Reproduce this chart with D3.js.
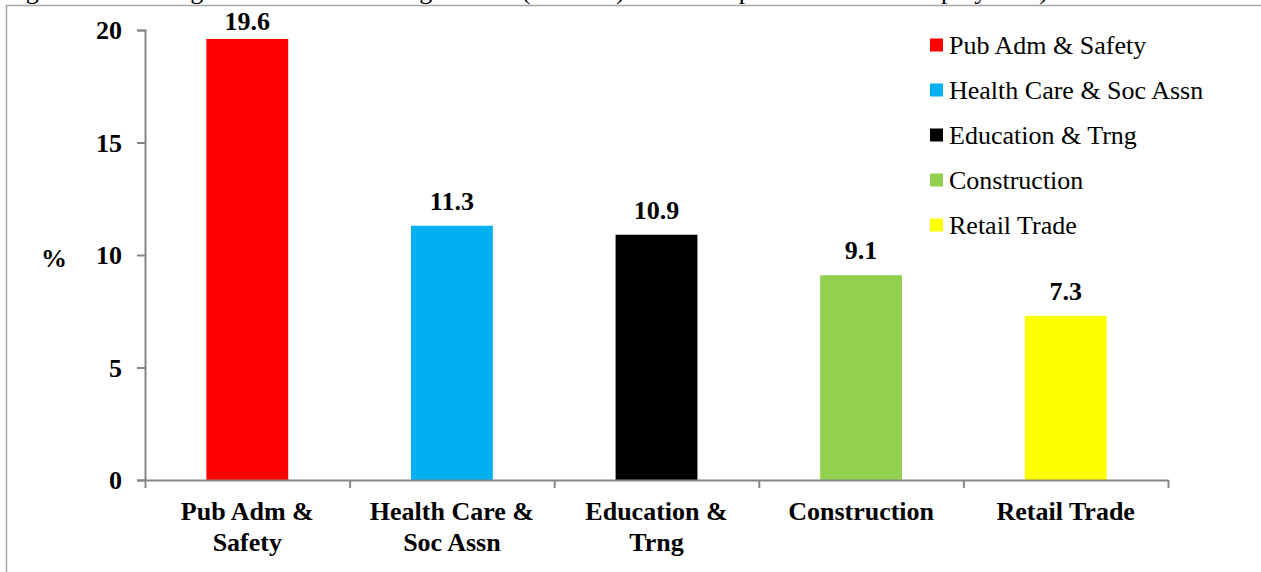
<!DOCTYPE html>
<html>
<head>
<meta charset="utf-8">
<script src="https://cdn.jsdelivr.net/npm/d3@7"></script>
<style>
  html, body { margin: 0; padding: 0; background: #fff; }
  svg { display: block; }
  text { font-family: "Liberation Serif", "Tinos", "Times New Roman", "DejaVu Serif", serif; fill: #000; }
</style>
</head>
<body>
<svg id="chart" width="1261" height="572"></svg>
<script>
// Leading industries of employment for women, share of employed (%)
const categories = ["Pub Adm & Safety", "Health Care & Soc Assn", "Education & Trng", "Construction", "Retail Trade"];
const values = [19.6, 11.3, 10.9, 9.1, 7.3];
const colors = ["#ff0000", "#00b0f0", "#000000", "#92d050", "#ffff00"];
const yTicks = [0, 5, 10, 15, 20];
const captionText = "Figure 14: Leading industries of working women (2011-12) as a share per cent of total employment)";

const FONT = "'Liberation Serif', 'Tinos', 'Times New Roman', 'DejaVu Serif', serif";
const svg = d3.select("#chart");
const W = 1261, H = 572;
const plot = { left: 145, right: 1168, top: 30, bottom: 480 };
const axisColor = "#868686";

// Caption line above the frame (runs off the top edge)
svg.append("text")
  .attr("x", 4)
  .attr("y", -1)
  .attr("font-family", FONT)
  .attr("font-size", 26)
  .text(captionText);

// Outer chart frame
svg.append("rect")
  .attr("x", 6.5).attr("y", 5.5)
  .attr("width", W + 50).attr("height", H + 50)
  .attr("fill", "none")
  .attr("stroke", "#a6a6a6")
  .attr("stroke-width", 1.5);

const x = d3.scaleBand()
  .domain(categories)
  .range([plot.left, plot.right])
  .paddingInner(0.6)
  .paddingOuter(0.3);

const y = d3.scaleLinear()
  .domain([0, 20])
  .range([plot.bottom, plot.top]);

const color = d3.scaleOrdinal().domain(categories).range(colors);

// Bars
svg.append("g")
  .selectAll("rect")
  .data(categories)
  .join("rect")
  .attr("x", d => x(d))
  .attr("width", x.bandwidth())
  .attr("y", (d, i) => y(values[i]))
  .attr("height", (d, i) => y(0) - y(values[i]))
  .attr("fill", d => color(d));

// Value labels above bars, kept inside the plot top
svg.append("g")
  .selectAll("text")
  .data(categories)
  .join("text")
  .attr("x", d => x(d) + x.bandwidth() / 2)
  .attr("y", (d, i) => Math.max(y(values[i]) - 16, y(20)))
  .attr("text-anchor", "middle")
  .attr("font-family", FONT)
  .attr("font-size", 26)
  .attr("font-weight", "bold")
  .text((d, i) => values[i].toFixed(1));

// Y axis
const yAxis = svg.append("g")
  .attr("transform", `translate(${plot.left},0)`)
  .call(d3.axisLeft(y).tickValues(yTicks).tickSize(8).tickPadding(15));
yAxis.select(".domain").attr("stroke", axisColor).attr("stroke-width", 2);
yAxis.selectAll(".tick line").attr("stroke", axisColor).attr("stroke-width", 2);
yAxis.selectAll(".tick text")
  .attr("font-family", FONT)
  .attr("font-size", 26)
  .attr("font-weight", "bold")
  .attr("fill", "#000")
  .attr("dy", "0.34em");

// Y axis title
svg.append("text")
  .attr("x", 54)
  .attr("y", 267)
  .attr("text-anchor", "middle")
  .attr("font-family", FONT)
  .attr("font-size", 26)
  .attr("font-weight", "bold")
  .text("%");

// X axis line with tick marks at category boundaries
const xEdges = d3.scaleLinear().domain([0, categories.length]).range([plot.left, plot.right]);
const xAxis = svg.append("g")
  .attr("transform", `translate(0,${plot.bottom})`)
  .call(d3.axisBottom(xEdges).ticks(categories.length).tickFormat("").tickSize(8).tickSizeOuter(0));
xAxis.select(".domain").attr("stroke", axisColor).attr("stroke-width", 2);
xAxis.selectAll(".tick line").attr("stroke", axisColor).attr("stroke-width", 2);

// Category labels, wrapped to the band width
const labelAxis = svg.append("g")
  .attr("transform", `translate(0,${plot.bottom})`)
  .call(d3.axisBottom(x).tickSize(0).tickPadding(0));
labelAxis.select(".domain").remove();
labelAxis.selectAll(".tick text")
  .attr("font-family", FONT)
  .attr("font-size", 26)
  .attr("font-weight", "bold")
  .attr("fill", "#000")
  .each(function(d) {
    const t = d3.select(this);
    const maxW = x.step() - 10;
    const words = d.split(" ");
    t.text(null);
    const lines = [];
    let line = [];
    const probe = t.append("tspan");
    words.forEach(w => {
      line.push(w);
      probe.text(line.join(" "));
      if (probe.node().getComputedTextLength() > maxW && line.length > 1) {
        line.pop();
        lines.push(line.join(" "));
        line = [w];
      }
    });
    lines.push(line.join(" "));
    probe.remove();
    t.attr("y", 40).attr("dy", null);
    lines.forEach((ln, i) => {
      t.append("tspan")
        .attr("x", 0)
        .attr("y", 40 + i * 31)
        .text(ln);
    });
  });

// Legend
const legend = svg.append("g")
  .selectAll("g")
  .data(categories)
  .join("g")
  .attr("transform", (d, i) => `translate(930,${45 + i * 45})`);
legend.append("rect")
  .attr("x", 0).attr("y", -6.5)
  .attr("width", 13).attr("height", 13)
  .attr("fill", d => color(d));
legend.append("text")
  .attr("x", 19)
  .attr("y", 8.5)
  .attr("font-family", FONT)
  .attr("font-size", 26)
  .text(d => d);
</script>
</body>
</html>
